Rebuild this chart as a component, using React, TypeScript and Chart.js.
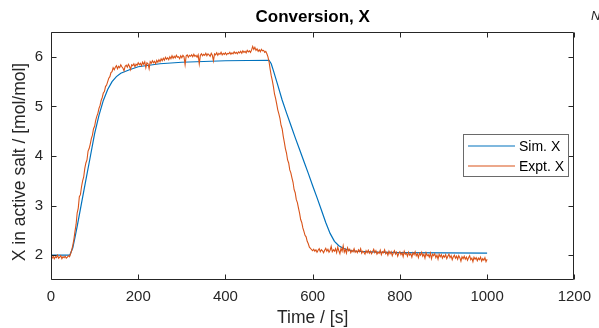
import { useEffect, useRef } from "react";
import { Chart, registerables } from "chart.js";

Chart.register(...registerables);

// Simulated conversion (time in s, X in mol/mol)
const simTime = [0, 43, 50, 55, 60, 70, 80, 90, 100, 110, 120, 130, 140, 150, 160, 180, 200, 250, 300, 400, 500, 505, 510, 520, 530, 540, 550, 560, 570, 580, 590, 600, 610, 620, 630, 640, 650, 660, 670, 680, 690, 700, 750, 800, 1000];
const simX = [2.0, 2.0, 2.15, 2.36, 2.58, 3.05, 3.52, 3.98, 4.45, 4.82, 5.12, 5.34, 5.5, 5.6, 5.67, 5.74, 5.8, 5.86, 5.89, 5.92, 5.93, 5.86, 5.72, 5.43, 5.13, 4.87, 4.62, 4.37, 4.13, 3.89, 3.65, 3.4, 3.16, 2.91, 2.66, 2.44, 2.28, 2.19, 2.14, 2.11, 2.09, 2.08, 2.06, 2.05, 2.04];

// Experimental conversion, sampled every exptStep seconds from t = 0
const exptStep = 2.5;
const exptX = [
  // 0 - 45 s
  1.96, 1.94, 1.98, 1.93, 1.97, 1.95, 2.0, 1.94, 1.96, 1.99, 1.93, 1.97, 1.95, 1.98, 1.94, 1.96, 1.99, 1.97, 2.03,
  // 47.5 - 145 s
  2.1, 2.2, 2.32, 2.48, 2.62, 2.85, 2.95, 3.18, 3.22, 3.38,
  3.5, 3.58, 3.75, 3.86, 3.92, 4.1, 4.15, 4.24, 4.35, 4.42,
  4.55, 4.6, 4.72, 4.8, 4.86, 4.96, 5.02, 5.12, 5.18, 5.27,
  5.3, 5.4, 5.43, 5.5, 5.57, 5.6, 5.68, 5.7, 5.78, 5.74,
  // 147.5 - 495 s
  5.79, 5.82, 5.76, 5.81, 5.78, 5.84, 5.8, 5.77, 5.72, 5.81,
  5.83, 5.79, 5.85, 5.81, 5.74, 5.84, 5.82, 5.86, 5.8, 5.85,
  5.83, 5.88, 5.84, 5.87, 5.82, 5.89, 5.85, 5.9, 5.78, 5.88,
  5.86, 5.76, 5.9, 5.87, 5.92, 5.88, 5.91, 5.86, 5.93, 5.89,
  5.94, 5.9, 5.96, 5.92, 5.97, 5.93, 5.99, 5.95, 5.98, 5.94,
  6.0, 5.96, 6.02, 5.97, 6.01, 5.98, 6.03, 5.99, 6.0, 5.96,
  6.02, 5.98, 6.03, 6.0, 5.84, 6.02, 6.04, 5.99, 6.03, 6.01,
  6.04, 6.0, 6.05, 6.01, 6.03, 5.99, 6.04, 5.86, 6.03, 6.06,
  6.02, 6.05, 6.03, 6.07, 6.02, 6.06, 6.04, 6.01, 6.07, 6.03,
  5.92, 6.06, 6.04, 6.08, 6.03, 6.07, 6.05, 6.09, 6.04, 6.07,
  6.05, 6.08, 6.04, 6.07, 6.06, 6.09, 6.05, 6.08, 6.06, 6.1,
  6.07, 6.09, 6.06, 6.1, 6.08, 6.11, 6.07, 6.12, 6.09, 6.11,
  6.08, 6.13, 6.1, 6.12, 6.09, 6.14, 6.21, 6.15, 6.19, 6.13,
  6.16, 6.11, 6.14, 6.1, 6.15, 6.12, 6.13, 6.09, 6.11, 6.06,
  // 497.5 - 600 s
  6.0, 5.9, 5.75, 5.62, 5.52, 5.4, 5.25, 5.16, 5.05, 4.93,
  4.85, 4.76, 4.62, 4.55, 4.4, 4.28, 4.15, 4.06, 3.92, 3.86,
  3.72, 3.66, 3.56, 3.47, 3.32, 3.26, 3.12, 3.06, 2.95, 2.85,
  2.72, 2.66, 2.55, 2.48, 2.4, 2.37, 2.28, 2.23, 2.16, 2.14,
  2.11, 2.09,
  // 602.5 - 1000 s
  2.12, 2.08, 2.11, 2.06, 2.1, 2.13, 2.07, 2.11, 2.09, 2.05,
  2.1, 2.14, 2.08, 2.12, 2.06, 2.1, 2.18, 2.07, 2.11, 2.08,
  2.13, 2.05, 2.16, 2.09, 2.03, 2.14, 2.08, 2.19, 2.06, 2.12,
  2.04, 2.15, 2.09, 2.12, 2.05, 2.1, 2.07, 2.13, 2.06, 2.09,
  2.05, 2.11, 2.07, 2.13, 2.04, 2.08, 2.06, 2.02, 2.09, 2.05,
  2.1, 2.04, 2.08, 2.03, 2.07, 2.12, 2.05, 2.09, 2.02, 2.06,
  2.04, 2.1, 2.01, 2.07, 2.05, 2.11, 2.03, 2.06, 2.0, 2.08,
  2.03, 2.07, 1.99, 2.05, 2.09, 2.02, 2.06, 1.98, 2.04, 2.07,
  2.01, 2.05, 1.97, 2.08, 2.02, 2.04, 1.98, 2.06, 2.0, 2.03,
  1.96, 2.05, 2.01, 2.07, 1.99, 2.03, 1.95, 2.04, 2.0, 2.06,
  1.98, 2.02, 1.94, 2.05, 1.99, 2.01, 1.96, 2.04, 1.93, 2.02,
  1.99, 2.03, 1.95, 2.0, 1.92, 2.02, 1.97, 2.01, 1.94, 1.99,
  1.96, 2.01, 1.93, 1.98, 2.02, 1.95, 1.99, 1.91, 1.97, 2.0,
  1.94, 1.98, 1.92, 1.99, 1.95, 1.88, 1.97, 1.93, 1.98, 1.92,
  1.96, 1.9, 1.95, 1.99, 1.91, 1.94, 1.87, 1.96, 1.92, 1.95,
  1.89, 1.94, 1.91, 1.96, 1.88, 1.93, 1.9, 1.95, 1.87, 1.92,
];

const xTicks = [0, 200, 400, 600, 800, 1000, 1200];
const yTicks = [2, 3, 4, 5, 6];
const xRange = [0, 1200];
const yRange = [1.5, 6.5];

const titleText = "Conversion, X";
const xLabel = "Time / [s]";
const yLabel = "X in active salt / [mol/mol]";
const seriesNames = ["Sim. X", "Expt. X"];
const seriesColors = ["#0072BD", "#D95319"];
const cornerText = "N";

const FONT = '"Liberation Sans", Arial, Helvetica, sans-serif';
const AXIS = "#262626";

const decorPlugin = {
  id: "decor",
  afterDraw(chart: any) {
    const { ctx, chartArea: a, scales } = chart;
    const xs = scales.x;
    const ys = scales.y;
    ctx.save();
    ctx.strokeStyle = AXIS;
    ctx.lineWidth = 1;
    const L = Math.round(a.left) + 0.5;
    const R = Math.round(a.right) - 0.5;
    const T = Math.round(a.top) + 0.5;
    const B = Math.round(a.bottom) - 0.5;
    ctx.beginPath();
    ctx.rect(L, T, R - L, B - T);
    ctx.stroke();
    const tl = 5;
    ctx.beginPath();
    for (const v of xTicks) {
      const px = Math.round(xs.getPixelForValue(v)) + 0.5;
      ctx.moveTo(px, B);
      ctx.lineTo(px, B - tl);
      ctx.moveTo(px, T);
      ctx.lineTo(px, T + tl);
    }
    for (const v of yTicks) {
      const py = Math.round(ys.getPixelForValue(v)) + 0.5;
      ctx.moveTo(L, py);
      ctx.lineTo(L + tl, py);
      ctx.moveTo(R, py);
      ctx.lineTo(R - tl, py);
    }
    ctx.stroke();

    // title
    ctx.fillStyle = "#000";
    ctx.font = `bold 17px ${FONT}`;
    ctx.textAlign = "center";
    ctx.textBaseline = "middle";
    ctx.fillText(titleText, (a.left + a.right) / 2, 17);

    // axis labels
    ctx.fillStyle = AXIS;
    ctx.font = `17.5px ${FONT}`;
    ctx.fillText(xLabel, (a.left + a.right) / 2, 318);
    ctx.save();
    ctx.translate(20, 162);
    ctx.rotate(-Math.PI / 2);
    ctx.fillText(yLabel, 0, 0);
    ctx.restore();

    // legend
    const lx = 463.5, ly = 134.5, lw = 105, lh = 42;
    ctx.fillStyle = "#fff";
    ctx.fillRect(lx, ly, lw, lh);
    ctx.strokeStyle = "#6a6a6a";
    ctx.lineWidth = 1;
    ctx.strokeRect(lx, ly, lw, lh);
    const rows = [146, 166];
    ctx.font = `14px ${FONT}`;
    ctx.textAlign = "left";
    for (let i = 0; i < 2; i++) {
      ctx.strokeStyle = seriesColors[i];
      ctx.lineWidth = 1.2;
      ctx.beginPath();
      ctx.moveTo(468, rows[i]);
      ctx.lineTo(515, rows[i]);
      ctx.stroke();
      ctx.fillStyle = "#000";
      ctx.fillText(seriesNames[i], 519, rows[i] + 1);
    }

    // cut-off corner text
    ctx.fillStyle = AXIS;
    ctx.font = `italic 13px ${FONT}`;
    ctx.fillText(cornerText, 591, 16);
    ctx.restore();
  },
};

export default function App() {
  const ref = useRef<HTMLCanvasElement>(null);
  useEffect(() => {
    document.body.style.margin = "0";
    const canvas = ref.current!;
    const simData = simTime.map((t, i) => ({ x: t, y: simX[i] }));
    const exptData = exptX.map((v, i) => ({ x: i * exptStep, y: v }));
    const chart = new Chart(canvas, {
      type: "line",
      data: {
        datasets: [
          {
            label: seriesNames[0],
            data: simData,
            borderColor: seriesColors[0],
            borderWidth: 1.2,
            pointRadius: 0,
            tension: 0,
            order: 2,
          },
          {
            label: seriesNames[1],
            data: exptData,
            borderColor: seriesColors[1],
            borderWidth: 1.1,
            pointRadius: 0,
            tension: 0,
            order: 1,
          },
        ],
      },
      options: {
        animation: false,
        responsive: false,
        devicePixelRatio: 1,
        layout: { padding: { left: 0, top: 32, right: 18, bottom: 0 } },
        plugins: {
          legend: { display: false },
          title: { display: false },
          tooltip: { enabled: false },
        },
        scales: {
          x: {
            type: "linear",
            min: xRange[0],
            max: xRange[1],
            grid: { display: false, drawTicks: false },
            border: { display: false },
            afterFit: (s: any) => {
              s.height = 48;
            },
            afterBuildTicks: (s: any) => {
              s.ticks = xTicks.map((v) => ({ value: v }));
            },
            ticks: {
              color: AXIS,
              font: { family: FONT, size: 15 },
              padding: 8,
              maxRotation: 0,
              callback: (v: any) => String(v),
            },
          },
          y: {
            type: "linear",
            min: yRange[0],
            max: yRange[1],
            grid: { display: false, drawTicks: false },
            border: { display: false },
            afterFit: (s: any) => {
              s.width = 51;
            },
            afterBuildTicks: (s: any) => {
              s.ticks = yTicks.map((v) => ({ value: v }));
            },
            ticks: {
              color: AXIS,
              font: { family: FONT, size: 15 },
              padding: 8,
              callback: (v: any) => String(v),
            },
          },
        },
      },
      plugins: [decorPlugin],
    });
    return () => chart.destroy();
  }, []);
  return (
    <div style={{ width: 599, height: 328, position: "relative", background: "#fff" }}>
      <canvas ref={ref} width={599} height={328} style={{ display: "block", width: 599, height: 328 }} />
    </div>
  );
}
